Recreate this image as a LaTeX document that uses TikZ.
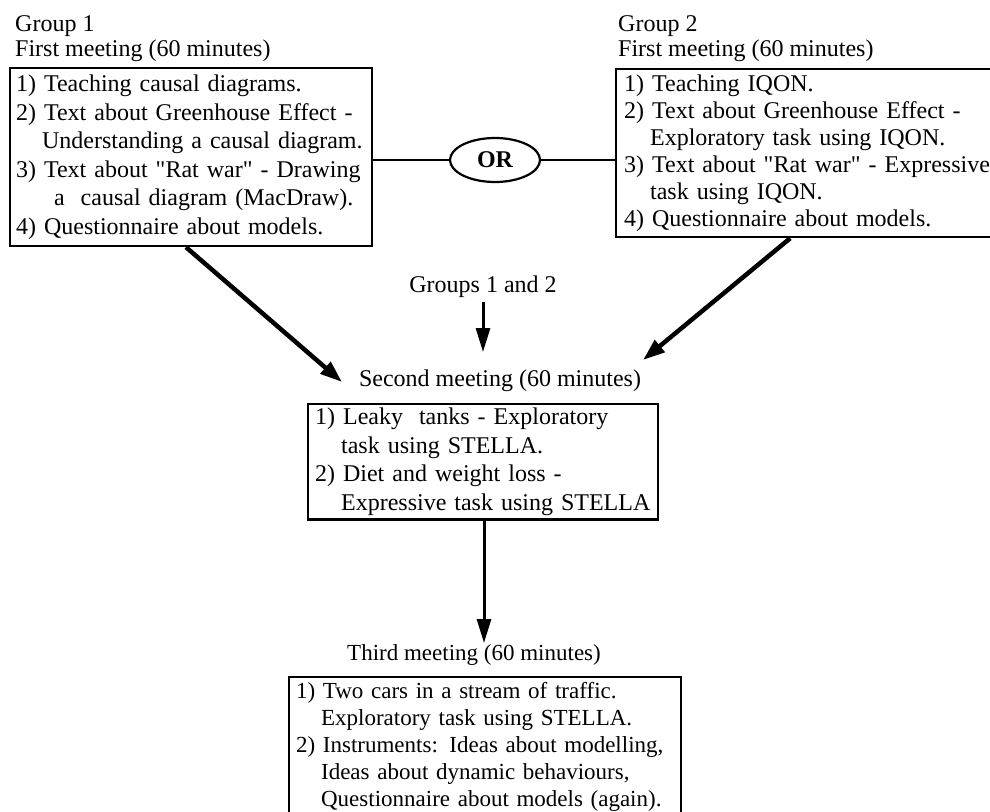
\documentclass[tikz,border=0pt]{standalone}
\usepackage{fontspec}
\newfontfamily\plainserif{Liberation Serif}
\usetikzlibrary{arrows.meta,shapes.geometric,calc}
\newcommand{\hang}[1]{\hspace*{#1}}
\begin{document}
\begin{tikzpicture}[x=1pt,y=-1pt,
  txt/.style={font=\plainserif\fontsize{24}{28.5}\selectfont, inner sep=0pt},
  panel/.style={draw, line width=2.2pt, anchor=north west, align=left,
    inner xsep=6pt, inner ysep=4pt, font=\plainserif\fontsize{24}{28.5}\selectfont},
  flow/.style={line width=4.5pt, -{Triangle[length=22pt,width=15pt]}},
  drop/.style={line width=3pt, -{Triangle[length=24pt,width=14pt]}},
  link/.style={line width=2.2pt},
]
\useasboundingbox (0,0) rectangle (990,811);

% Group 1, first meeting
\node[txt, anchor=base west] (g1title) at (15,31) {Group 1};
\node[txt, anchor=base west] (g1sub) at (15,56) {First meeting (60 minutes)};
\node[panel, text width=350pt, minimum height=178pt] (box1) at (9,67) {%
1) Teaching causal diagrams.\\
2) Text about Greenhouse Effect -\\
\hang{26pt}Understanding a causal diagram.\\
3) Text about "Rat war" - Drawing\\
\hang{38pt}a\ \ causal diagram (MacDraw).\\
4) Questionnaire about models.};

% Group 2, first meeting
\node[txt, anchor=base west] (g2title) at (618,31) {Group 2};
\node[txt, anchor=base west] (g2sub) at (618,56) {First meeting (60 minutes)};
\node[panel, text width=380pt, minimum height=168pt, inner xsep=8pt,
      font=\plainserif\fontsize{24}{27}\selectfont] (box2) at (615,68) {%
1) Teaching IQON.\\
2) Text about Greenhouse Effect -\\
\hang{26pt}Exploratory task using IQON.\\
3) Text about "Rat war" - Expressive\\
\hang{26pt}task using IQON.\\
4) Questionnaire about models.};

% alternative between the two groups
\node[draw, ellipse, line width=2.2pt, minimum width=90pt, minimum height=44pt,
      inner sep=0pt, font=\plainserif\fontsize{24}{28}\selectfont\bfseries] (alt) at (495,160) {OR};
\draw[link] (alt.west) -- (alt.west -| box1.east);
\draw[link] (alt.east) -- (alt.east -| box2.west);

% second meeting
\node[txt] (both) at (483,287) {Groups 1 and 2};
\coordinate (bothtip) at (483,352);
\draw[drop] (both.south -| bothtip) ++(0,4) -- (bothtip);

\node[txt] (m2) at (500,381) {Second meeting (60 minutes)};
\node[panel, text width=336pt, minimum height=113pt, inner xsep=7pt] (box3) at (307,403) {%
1) Leaky\ \ tanks - Exploratory\\
\hang{26pt}task using STELLA.\\
2) Diet and weight loss -\\
\hang{26pt}Expressive task using STELLA};

\coordinate (t1) at (342,382);
\coordinate (t2) at (643,360);
\draw[flow] ($(box1.south west)!0.486!(box1.south east)$) -- (t1);
\draw[flow] ($(box2.south west)!0.44!(box2.south east)$) -- (t2);

% third meeting
\coordinate (t3) at (484,643);
\draw[drop] (box3.south -| t3) -- (t3);
\node[txt, font=\plainserif\fontsize{23}{27}\selectfont] (m3) at (474,655) {Third meeting (60 minutes)};
\node[panel, text width=378pt, inner xsep=7pt, inner ysep=5pt,
      font=\plainserif\fontsize{23}{27}\selectfont] (box4) at (288,676) {%
1) Two cars in a stream of traffic.\\
\hang{25pt}Exploratory task using STELLA.\\
2) Instruments: Ideas about modelling,\\
\hang{25pt}Ideas about dynamic behaviours,\\
\hang{25pt}Questionnaire about models (again).};
\end{tikzpicture}
\end{document}
